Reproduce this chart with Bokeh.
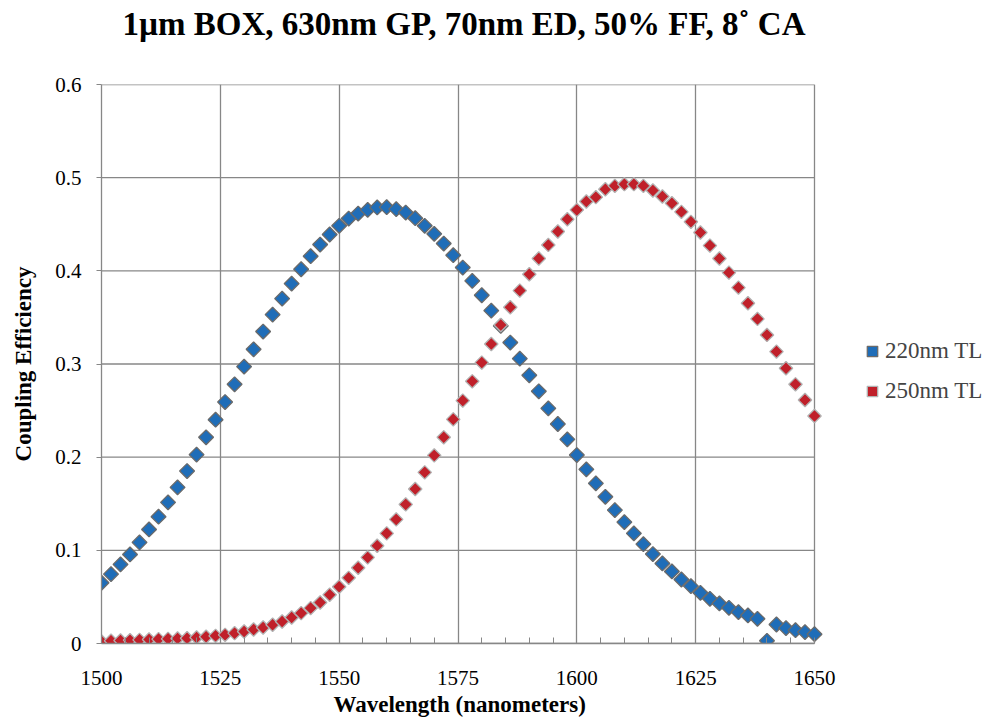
from bokeh.plotting import figure
from bokeh.models import (Range1d, FixedTicker, Legend, LegendItem, ColumnDataSource, Title)
from bokeh.embed import file_html
from bokeh.resources import INLINE
import math

wavelength = list(range(1500, 1651, 2))

ce_220 = [0.0652, 0.0745, 0.0849, 0.0956, 0.1085, 0.1224, 0.1361, 0.1515, 0.1676, 0.1851,
          0.2027, 0.2213, 0.2402, 0.2592, 0.2782, 0.2972, 0.3158, 0.3348, 0.3530, 0.3702,
          0.3863, 0.4017, 0.4157, 0.4282, 0.4390, 0.4483, 0.4561, 0.4615, 0.4654, 0.4680,
          0.4683, 0.4662, 0.4626, 0.4565, 0.4483, 0.4397, 0.4293, 0.4168, 0.4035, 0.3892,
          0.3738, 0.3573, 0.3409, 0.3230, 0.3058, 0.2879, 0.2707, 0.2524, 0.2356, 0.2191,
          0.2023, 0.1869, 0.1719, 0.1575, 0.1432, 0.1303, 0.1182, 0.1067, 0.0960, 0.0859,
          0.0773, 0.0687, 0.0616, 0.0544, 0.0480, 0.0430, 0.0383, 0.0337, 0.0301, 0.0265,
          0.0029, 0.0204, 0.0165, 0.0143, 0.0122, 0.0100]

ce_250 = [0.0021, 0.0029, 0.0032, 0.0036, 0.0039, 0.0043, 0.0047, 0.0050, 0.0054, 0.0057,
          0.0064, 0.0072, 0.0082, 0.0093, 0.0111, 0.0129, 0.0150, 0.0172, 0.0201, 0.0236,
          0.0279, 0.0326, 0.0380, 0.0440, 0.0523, 0.0609, 0.0705, 0.0813, 0.0924, 0.1049,
          0.1182, 0.1332, 0.1493, 0.1658, 0.1837, 0.2019, 0.2213, 0.2406, 0.2607, 0.2814,
          0.3015, 0.3215, 0.3419, 0.3609, 0.3788, 0.3963, 0.4132, 0.4278, 0.4422, 0.4554,
          0.4654, 0.4744, 0.4791, 0.4876, 0.4912, 0.4930, 0.4930, 0.4912, 0.4862, 0.4798,
          0.4726, 0.4633, 0.4526, 0.4411, 0.4271, 0.4132, 0.3981, 0.3820, 0.3652, 0.3484,
          0.3312, 0.3133, 0.2954, 0.2782, 0.2614, 0.2442]

series_names = ["220nm TL", "250nm TL"]
x_ticks = [1500, 1525, 1550, 1575, 1600, 1625, 1650]
y_ticks = [0, 0.1, 0.2, 0.3, 0.4, 0.5, 0.6]
y_tick_labels = ["0", "0.1", "0.2", "0.3", "0.4", "0.5", "0.6"]

FONT = "Liberation Serif"
GRID = "#878787"

W, H = 984, 719
LEFT, RIGHT, TOP, BOTTOM = 101, 0, 84, 76
X0, X1 = x_ticks[0], x_ticks[-1]
PLOT_W = 713  # pixel width of the 1500-1650 span
frame_w = W - LEFT - RIGHT
x_end = X0 + (X1 - X0) * frame_w / PLOT_W   # extra room on the right holds the legend

p = figure(width=W, height=H, output_backend="svg", toolbar_location=None,
           x_range=Range1d(X0, x_end), y_range=Range1d(y_ticks[0], y_ticks[-1]),
           min_border_left=LEFT, min_border_right=RIGHT, min_border_top=TOP,
           min_border_bottom=BOTTOM)
p.outline_line_color = None
p.background_fill_color = "white"
p.border_fill_color = "white"

p.title.text = "1µm BOX, 630nm GP, 70nm ED,  50% FF, 8˚ CA"
p.title.align = "left"
p.title.offset = 21
p.title.text_font = FONT
p.title.text_font_size = "33px"
p.title.text_font_style = "bold"
p.title.text_color = "black"
p.title.standoff = 5
# empty spacer between title and plot area
p.add_layout(Title(text=" ", text_font_size="30px", standoff=5), "above")

p.xaxis.ticker = FixedTicker(ticks=x_ticks, minor_ticks=list(range(X0, X1 + 1, 5)))
p.xaxis.bounds = (X0, X1)
p.yaxis.ticker = FixedTicker(ticks=y_ticks)
p.yaxis.major_label_overrides = {t: l for t, l in zip(y_ticks, y_tick_labels)}

for ax in (p.xaxis[0], p.yaxis[0]):
    ax.axis_line_color = GRID
    ax.axis_line_width = 1.3
    ax.major_tick_line_color = GRID
    ax.minor_tick_line_color = GRID
    ax.major_label_text_font = FONT
    ax.major_label_text_font_size = "21px"
    ax.major_label_text_color = "black"
    ax.axis_label_text_font = FONT
    ax.axis_label_text_font_style = "bold"
    ax.axis_label_text_color = "black"

p.xaxis.major_tick_in = 0
p.xaxis.major_tick_out = 0
p.xaxis.minor_tick_in = 6
p.xaxis.minor_tick_out = 0
p.xaxis.major_label_standoff = 27

# x-axis title centred under the 1500-1650 span
p.add_layout(Title(text="Wavelength (nanometers)", align="left", offset=232,
                   text_font=FONT, text_font_size="23px", text_font_style="bold",
                   text_color="black", standoff=4), "below")

p.yaxis.axis_label = "Coupling Efficiency"
p.yaxis.axis_label_text_font_size = "23px"
p.yaxis.major_tick_in = 0
p.yaxis.major_tick_out = 5
p.yaxis.minor_tick_line_color = None
p.yaxis.major_label_standoff = 15
p.yaxis.axis_label_standoff = 16

p.xgrid.ticker = FixedTicker(ticks=x_ticks)
p.xgrid.grid_line_color = GRID
p.xgrid.grid_line_width = 1.3
p.ygrid.visible = False
# horizontal grid lines limited to the 1500-1650 span
p.segment(x0=[X0] * len(y_ticks), x1=[X1] * len(y_ticks), y0=y_ticks, y1=y_ticks,
          line_color=GRID, line_width=1.3, level="underlay")

src = ColumnDataSource(dict(x=wavelength, a=ce_220, b=ce_250))
r1 = p.scatter("x", "a", source=src, marker="square", angle=math.pi / 4, size=10.5,
               fill_color="#1F6DB8", line_color="#6A6A6A", line_width=1.3)
r2 = p.scatter("x", "b", source=src, marker="square", angle=math.pi / 4, size=9.5,
               fill_color="#C0202A", line_color="#B2B2B2", line_width=1.3)

legend = Legend(items=[LegendItem(label=series_names[0], renderers=[r1]),
                       LegendItem(label=series_names[1], renderers=[r2])],
                location=(758, 239), orientation="vertical",
                label_text_font=FONT, label_text_font_size="23px",
                glyph_width=26, glyph_height=26, label_standoff=0,
                spacing=14, padding=0, margin=0,
                border_line_color=None, background_fill_alpha=0)
p.add_layout(legend, "center")

open("out.html", "w").write(file_html(p, INLINE))
